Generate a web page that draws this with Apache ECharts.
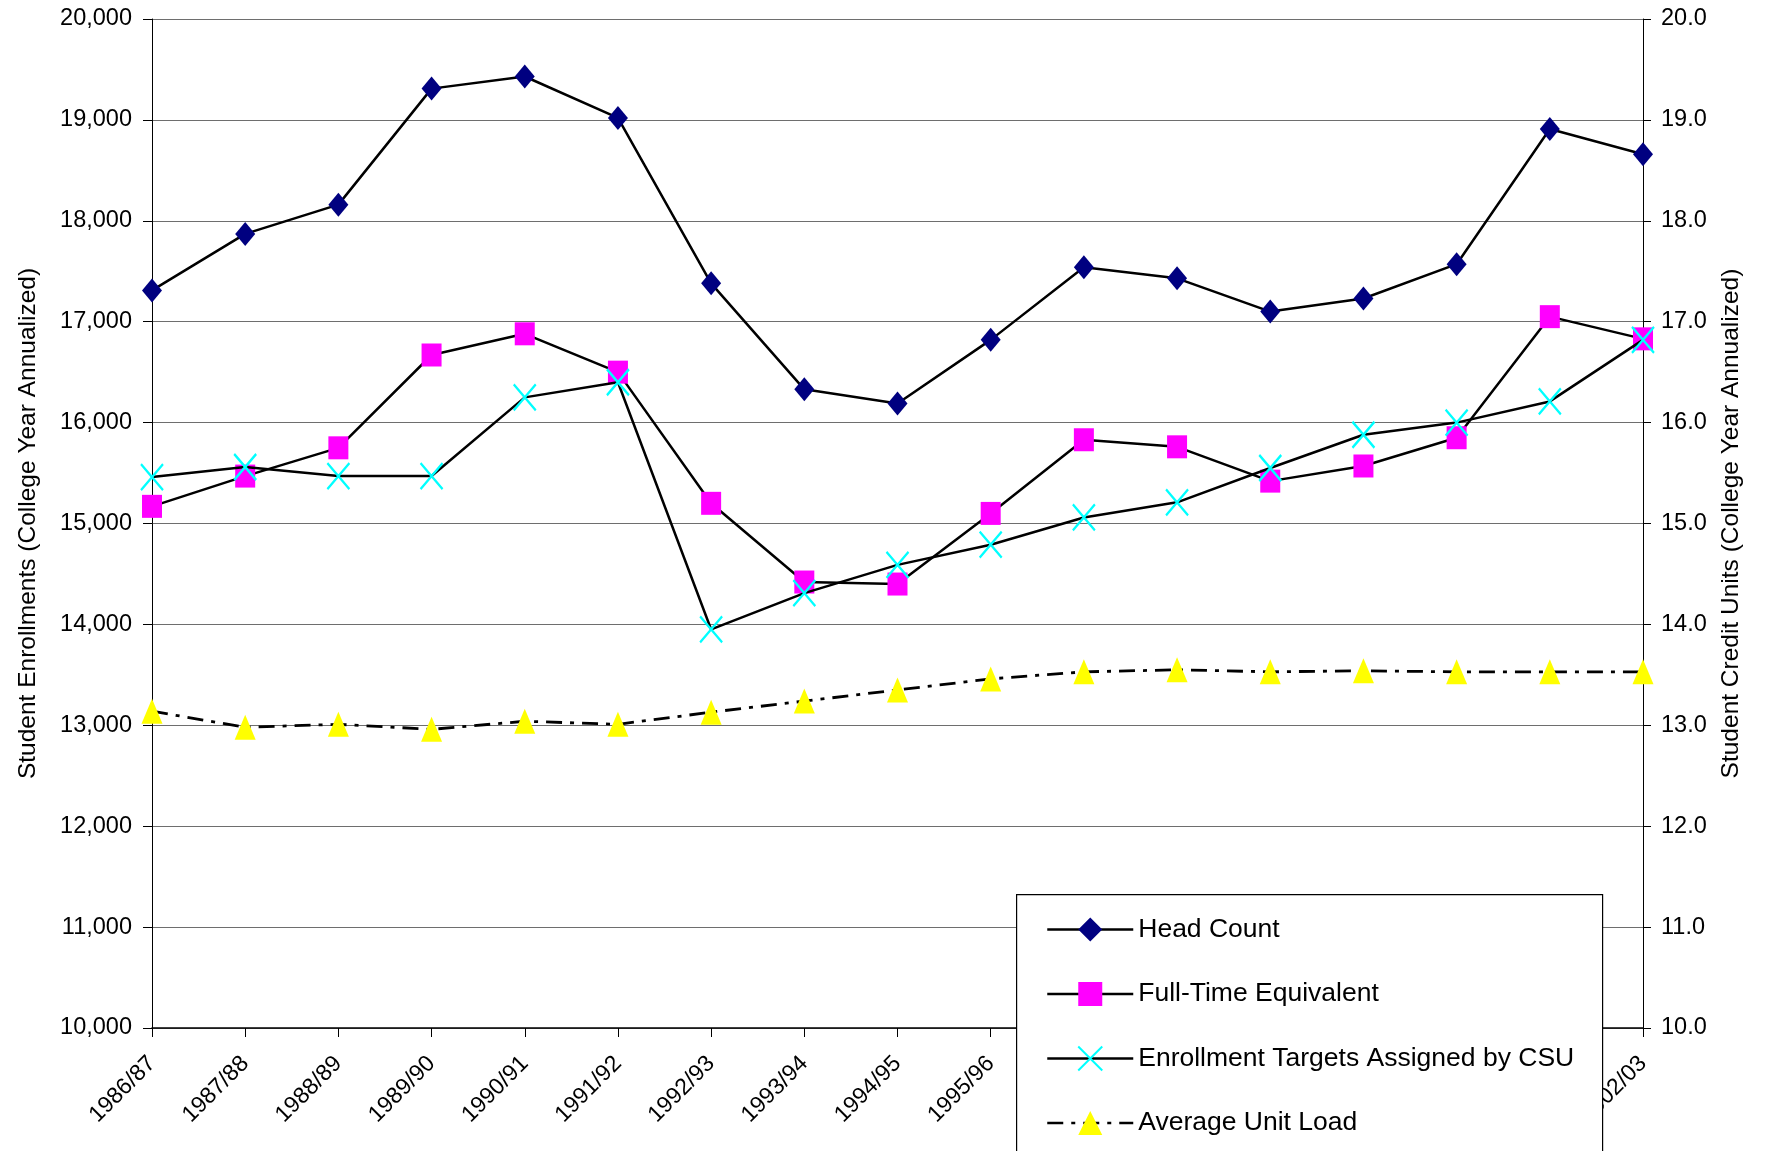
<!DOCTYPE html>
<html>
<head>
<meta charset="utf-8">
<script src="https://cdn.jsdelivr.net/npm/echarts@6/dist/echarts.min.js"></script>
<style>html,body{margin:0;padding:0;background:#fff}#c{width:1765px;height:1151px}</style>
</head>
<body>
<div id="c"></div>
<script>
var categories = ['1986/87','1987/88','1988/89','1989/90','1990/91','1991/92','1992/93','1993/94','1994/95','1995/96','1996/97','1997/98','1998/99','1999/00','2000/01','2001/02','2002/03'];
var headCount = [17310,17870,18160,19310,19430,19020,17380,16330,16190,16820,17540,17430,17100,17230,17570,18910,18660];
var fullTimeEquivalent = [15170,15470,15750,16670,16880,16500,15200,14420,14400,15100,15830,15760,15420,15570,15850,17050,16830];
var enrollmentTargets = [15460,15560,15470,15470,16250,16400,13950,14310,14590,14790,15060,15210,15550,15880,16000,16210,16820];
var averageUnitLoad = [13.14,12.98,13.01,12.96,13.04,13.01,13.13,13.24,13.35,13.46,13.53,13.55,13.53,13.54,13.53,13.53,13.53];

var FONT = "'Liberation Sans',Arial,sans-serif";

var chart = echarts.init(document.getElementById('c'), null, {renderer:'canvas'});
var lineBlack = {color:'#000', width:2.5};
chart.setOption({
  animation:false,
  backgroundColor:'#fff',
  grid:{left:152, right:122, top:19, bottom:123, containLabel:false},
  xAxis:{
    type:'category', data:categories, boundaryGap:false,
    axisLine:{lineStyle:{color:'#000', width:1.5}},
    axisTick:{show:true, length:9, inside:false, alignWithLabel:true, lineStyle:{color:'#000'}},
    axisLabel:{rotate:45, fontFamily:FONT, fontSize:23, color:'#000', margin:32, interval:0},
    splitLine:{show:false}, z:0
  },
  yAxis:[{
    type:'value', min:10000, max:20000, interval:1000, position:'left',
    name:'Student Enrollments (College Year Annualized)', nameLocation:'middle', nameRotate:90, nameGap:111,
    nameTextStyle:{fontFamily:FONT, fontSize:24.5, color:'#000'},
    axisLine:{show:true, lineStyle:{color:'#000', width:1}},
    axisTick:{show:true, length:9, lineStyle:{color:'#000'}},
    axisLabel:{fontFamily:FONT, fontSize:23.5, color:'#000', margin:20,
      formatter:function(v){return v.toLocaleString('en-US');}},
    splitLine:{show:true, lineStyle:{color:'#6e6e6e', width:1.2}}
  },{
    type:'value', min:10, max:20, interval:1, position:'right',
    name:'Student Credit Units (College Year Annualized)', nameLocation:'middle', nameRotate:90, nameGap:76,
    nameTextStyle:{fontFamily:FONT, fontSize:24.5, color:'#000'},
    axisLine:{show:true, lineStyle:{color:'#000', width:1}},
    axisTick:{show:true, length:8, lineStyle:{color:'#000'}},
    axisLabel:{fontFamily:FONT, fontSize:23.5, color:'#000', margin:18,
      formatter:function(v){return v.toFixed(1);}},
    splitLine:{show:false}
  }],
  graphic:[{type:'rect', left:1016, top:894, z:3, shape:{width:586, height:300},
    style:{fill:'#fff', stroke:'#000', lineWidth:1.2}}],
  legend:{
    orient:'vertical', left:1041, top:911, height:400, z:4,
    itemWidth:86, itemHeight:30, itemGap:37.5,
    lineStyle:{width:2.5},
    textStyle:{fontFamily:FONT, fontSize:26.5, color:'#000'},
    data:['Head Count','Full-Time Equivalent','Enrollment Targets Assigned by CSU','Average Unit Load']
  },
  series:[{
    name:'Head Count', type:'line', data:headCount, yAxisIndex:0,
    symbol:'diamond', symbolSize:[20,24], showAllSymbol:true,
    itemStyle:{color:'#000080'}, lineStyle:lineBlack, z:5
  },{
    name:'Full-Time Equivalent', type:'line', data:fullTimeEquivalent, yAxisIndex:0,
    symbol:'rect', symbolSize:[20,23], showAllSymbol:true,
    itemStyle:{color:'#FF00FF'}, lineStyle:lineBlack, z:4
  },{
    name:'Enrollment Targets Assigned by CSU', type:'line', data:enrollmentTargets, yAxisIndex:0,
    symbol:'path://M0,0 L10,12 M10,0 L0,12', symbolSize:[22,26], showAllSymbol:true,
    itemStyle:{color:'#00FFFF', borderColor:'#00FFFF', borderWidth:2.4}, lineStyle:lineBlack, z:6
  },{
    name:'Average Unit Load', type:'line', data:averageUnitLoad, yAxisIndex:1,
    symbol:'triangle', symbolSize:[21,25], showAllSymbol:true,
    itemStyle:{color:'#FFFF00'}, lineStyle:{color:'#000', width:2.8, type:[16,8,4,8]}, z:3
  }]
});
</script>
</body>
</html>
